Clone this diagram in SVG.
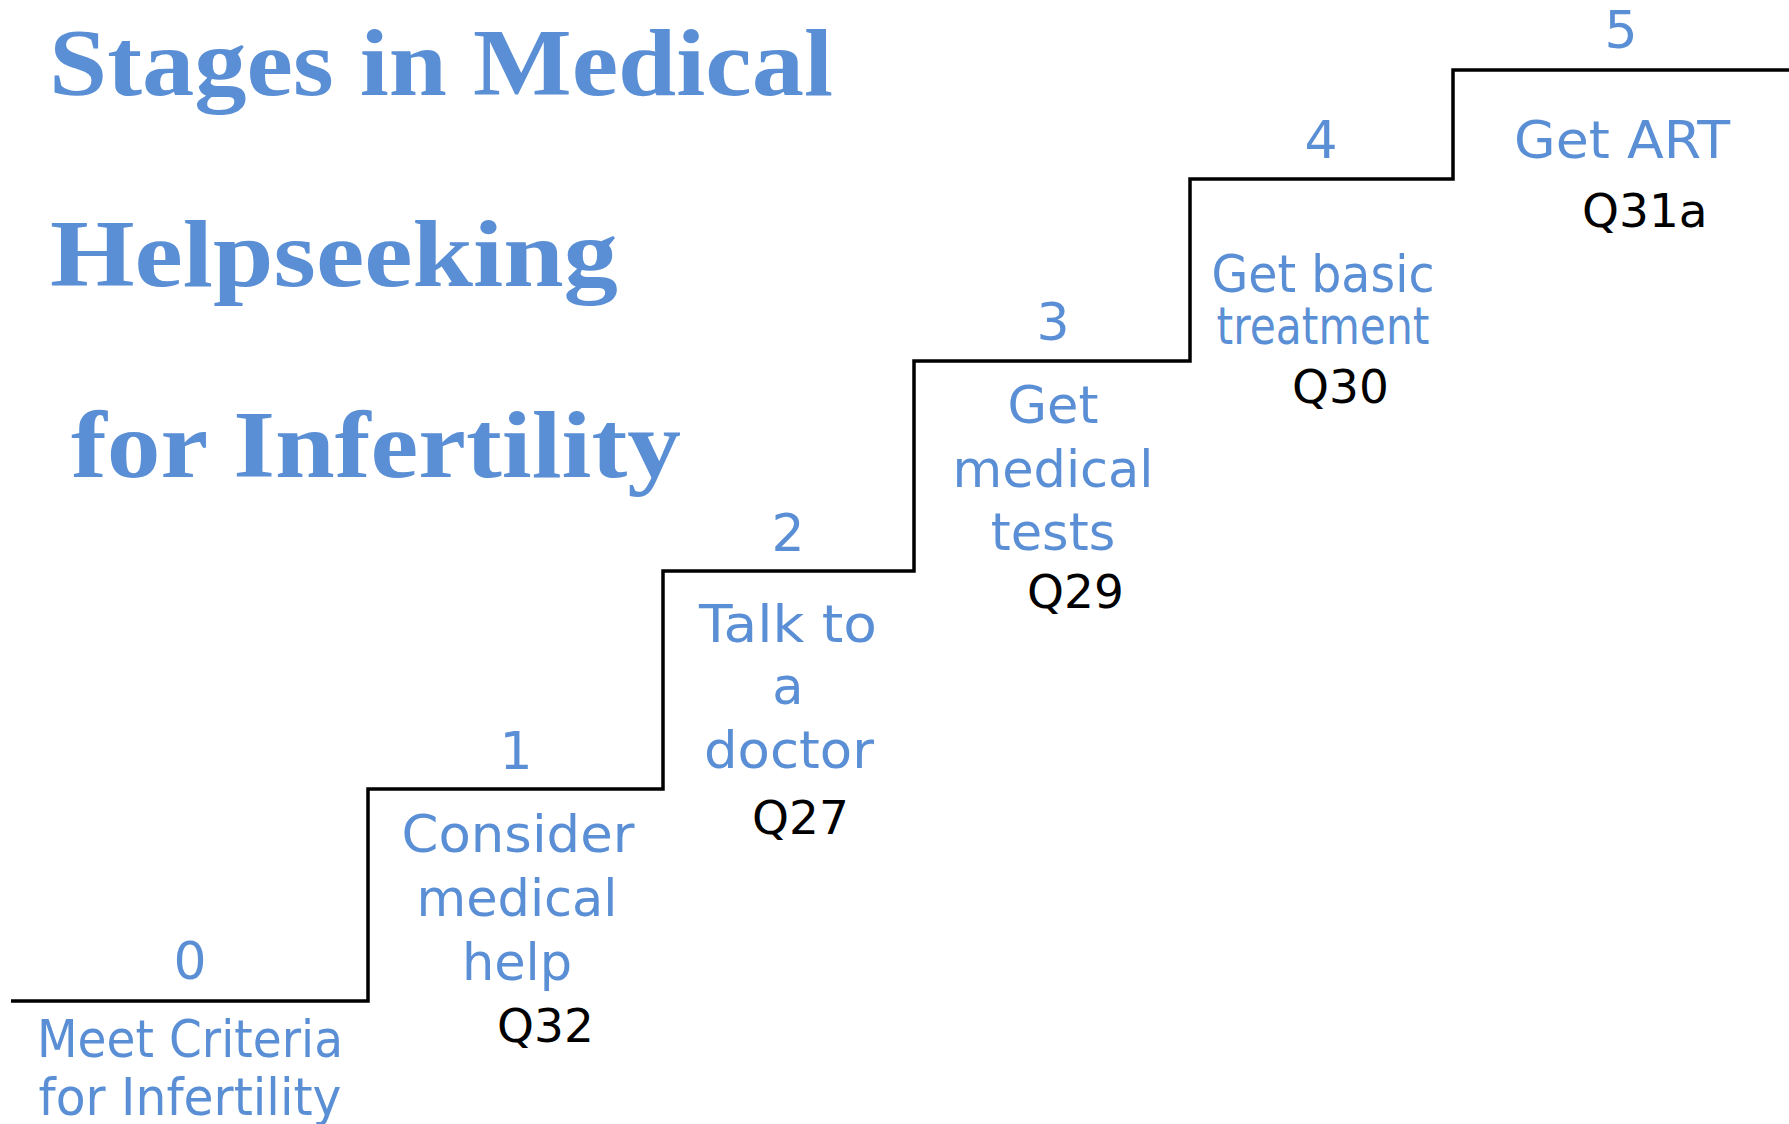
<svg xmlns="http://www.w3.org/2000/svg" width="1789" height="1124" viewBox="0 0 1789 1124">
<style>
.title{font-family:"Liberation Serif","Times New Roman",serif;font-weight:bold;font-size:96px;fill:#5A8FD5}
.num{font-family:"DejaVu Sans",Verdana,sans-serif;font-size:52px;fill:#5A8FD5;text-anchor:middle}
.lab{font-family:"DejaVu Sans",Verdana,sans-serif;font-size:51px;fill:#5A8FD5;text-anchor:middle}
.q{font-family:"DejaVu Sans",Verdana,sans-serif;font-size:47px;fill:#000000}
.stair{fill:none;stroke:#000000;stroke-width:3.5}
</style>
<rect width="1789" height="1124" fill="#ffffff"/>
<g id="title">
<text class="title" x="49" y="95" textLength="784" lengthAdjust="spacingAndGlyphs">Stages in Medical</text>
<text class="title" x="50" y="286" textLength="568" lengthAdjust="spacingAndGlyphs">Helpseeking</text>
<text class="title" x="71" y="477" textLength="610" lengthAdjust="spacingAndGlyphs">for Infertility</text>
</g>
<g id="connectors">
<path class="stair" d="M11 1001 H368 V789 H663 V571 H914 V361 H1190 V179 H1453 V70 H1789"/>
</g>
<g id="stage0">
<text class="num" x="190" y="979">0</text>
<text class="lab" x="190" y="1057" font-size="46" textLength="306" lengthAdjust="spacingAndGlyphs">Meet Criteria</text>
<text class="lab" x="190" y="1115" font-size="46" textLength="303" lengthAdjust="spacingAndGlyphs">for Infertility</text>
</g>
<g id="stage1">
<text class="num" x="516" y="769">1</text>
<text class="lab" x="518" y="852" textLength="233" lengthAdjust="spacingAndGlyphs">Consider</text>
<text class="lab" x="517" y="916">medical</text>
<text class="lab" x="517" y="980">help</text>
<text class="q" x="497" y="1042">Q32</text>
</g>
<g id="stage2">
<text class="num" x="788" y="551">2</text>
<text class="lab" x="788" y="642" textLength="178" lengthAdjust="spacingAndGlyphs">Talk to</text>
<text class="lab" x="788" y="704">a</text>
<text class="lab" x="789" y="768" textLength="170" lengthAdjust="spacingAndGlyphs">doctor</text>
<text class="q" x="752" y="834">Q27</text>
</g>
<g id="stage3">
<text class="num" x="1053" y="340">3</text>
<text class="lab" x="1053" y="423">Get</text>
<text class="lab" x="1053" y="487">medical</text>
<text class="lab" x="1053" y="550">tests</text>
<text class="q" x="1027" y="608">Q29</text>
</g>
<g id="stage4">
<text class="num" x="1321" y="158">4</text>
<text class="lab" x="1323" y="292" font-size="47" textLength="223" lengthAdjust="spacingAndGlyphs">Get basic</text>
<text class="lab" x="1323" y="344" font-size="41" textLength="213" lengthAdjust="spacingAndGlyphs">treatment</text>
<text class="q" x="1292" y="403">Q30</text>
</g>
<g id="stage5">
<text class="num" x="1621" y="48">5</text>
<text class="lab" x="1622" y="158" font-size="53" textLength="216" lengthAdjust="spacingAndGlyphs">Get ART</text>
<text class="q" x="1582" y="227">Q31a</text>
</g>
</svg>
